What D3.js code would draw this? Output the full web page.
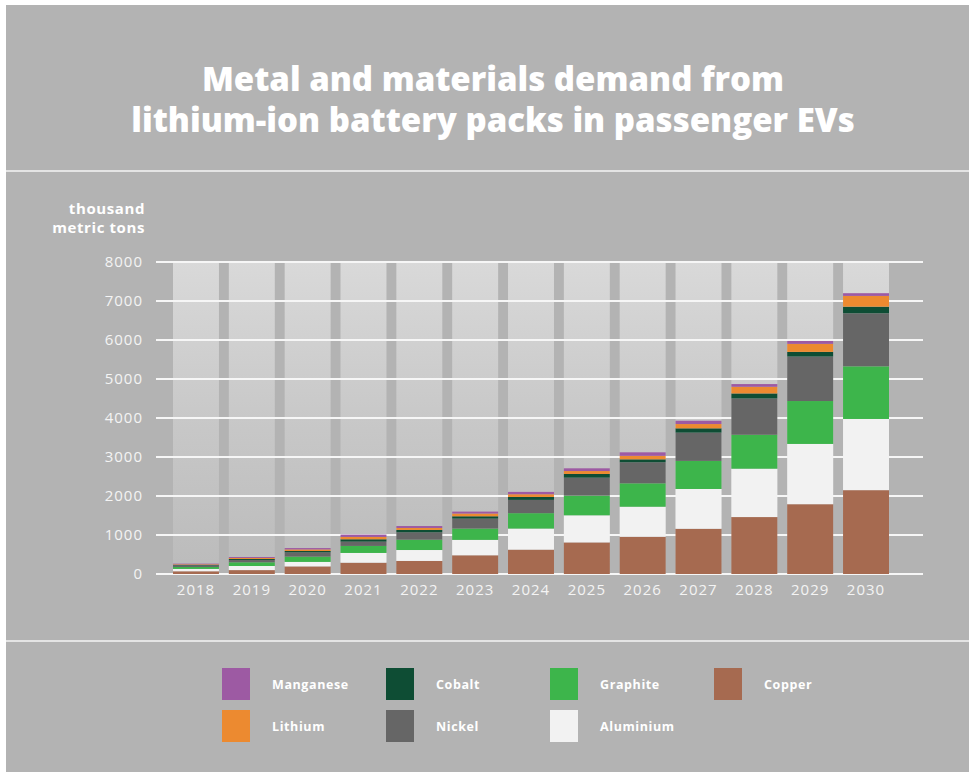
<!DOCTYPE html>
<html lang="en">
<head>
    <meta charset="UTF-8">
    <title>EV battery materials demand</title>
    <style>
        body{ margin:0; background:#ffffff; }
        svg text{ font-family:"Open Sans", sans-serif; }
        .title{ fill:#ffffff; font-size:33px; font-weight:800; text-anchor:middle; }
        .unit{ fill:#ffffff; font-size:15px; font-weight:700; text-anchor:end; letter-spacing:0.6px; }
        .axis text{ fill:#f4f4f4; font-size:15px; letter-spacing:1px; }
        .axis path,.axis line{ display:none; }
        .legendText{ fill:#ffffff; font-size:12.5px; font-weight:700; letter-spacing:0.6px; }
    </style>
    <script src="https://cdn.jsdelivr.net/npm/d3@7"></script>
</head>
<body>
<script>
    // data, thousand metric tons
    var years = ["2018","2019","2020","2021","2022","2023","2024","2025","2026","2027","2028","2029","2030"];
    var copper    = [70,100,195,290,335,480,625,810,955,1160,1460,1790,2150];
    var aluminium = [60,105,115,250,280,395,540,695,770,1020,1240,1545,1825];
    var graphite  = [50,95,135,180,265,290,395,505,600,720,870,1100,1350];
    var nickel    = [40,60,110,110,190,255,340,460,540,725,930,1140,1360];
    var cobalt    = [15,25,35,60,60,60,75,95,75,110,130,120,170];
    var lithium   = [15,25,40,60,50,70,70,75,90,110,170,205,275];
    var manganese = [15,25,35,60,50,50,60,70,90,85,70,75,70];
    var yTicks = [0,1000,2000,3000,4000,5000,6000,7000,8000];

    var keys = ["Copper","Aluminium","Graphite","Nickel","Cobalt","Lithium","Manganese"];
    var series = {Copper:copper, Aluminium:aluminium, Graphite:graphite, Nickel:nickel,
                  Cobalt:cobalt, Lithium:lithium, Manganese:manganese};
    var colors = {Manganese:"#9d5aa3", Lithium:"#ec8a30", Cobalt:"#0e4d34", Nickel:"#666666",
                  Graphite:"#3db54b", Aluminium:"#f2f2f2", Copper:"#a66a50"};

    var rows = years.map(function(y,i){
        var r = {year:y};
        keys.forEach(function(k){ r[k] = series[k][i]; });
        return r;
    });

    var width = 969, height = 772;
    var svg = d3.select("body").append("svg")
            .attr("width",width)
            .attr("height",height);

    // panel background
    svg.append("rect").attr("x",6).attr("y",5).attr("width",width-6).attr("height",height-5).attr("fill","#b3b3b3");
    svg.append("rect").attr("x",6).attr("y",170).attr("width",width-6).attr("height",2).attr("fill","#e4e4e4");
    svg.append("rect").attr("x",6).attr("y",640).attr("width",width-6).attr("height",2).attr("fill","#e4e4e4");

    // title
    svg.append("text").attr("class","title").attr("x",493).attr("y",91).text("Metal and materials demand from");
    svg.append("text").attr("class","title").attr("x",493).attr("y",132).text("lithium-ion battery packs in passenger EVs");

    svg.append("text").attr("class","unit").attr("x",145).attr("y",214).text("thousand");
    svg.append("text").attr("class","unit").attr("x",145).attr("y",233).text("metric tons");

    // scales
    var xScale = d3.scaleBand()
            .domain(years)
            .range([173,889])
            .paddingInner(0.177)
            .paddingOuter(0);
    var yScale = d3.scaleLinear()
            .domain([0,8000])
            .range([574,262]);

    // gradient for the background columns
    var defs = svg.append("defs");
    var grad = defs.append("linearGradient").attr("id","colGrad")
            .attr("x1",0).attr("y1",0).attr("x2",0).attr("y2",1);
    grad.append("stop").attr("offset","0%").attr("stop-color","#d9d9d9");
    grad.append("stop").attr("offset","50%").attr("stop-color","#c8c8c8");
    grad.append("stop").attr("offset","100%").attr("stop-color","#bbbbbb");

    svg.selectAll(".col")
            .data(years)
            .enter()
            .append("rect")
            .attr("class","col")
            .attr("x",function(d){ return xScale(d); })
            .attr("y",yScale(8000))
            .attr("width",xScale.bandwidth())
            .attr("height",yScale(0)-yScale(8000))
            .attr("fill","url(#colGrad)");

    // gridlines
    svg.selectAll(".grid")
            .data(yTicks)
            .enter()
            .append("line")
            .attr("x1",156)
            .attr("x2",923)
            .attr("y1",function(d){ return yScale(d); })
            .attr("y2",function(d){ return yScale(d); })
            .attr("stroke","#f6f6f6")
            .attr("stroke-width",2);

    // stacked bars
    var stack = d3.stack().keys(keys)(rows);
    svg.selectAll(".layer")
            .data(stack)
            .enter()
            .append("g")
            .attr("fill",function(d){ return colors[d.key]; })
            .selectAll("rect")
            .data(function(d){ return d; })
            .enter()
            .append("rect")
            .attr("x",function(d){ return xScale(d.data.year); })
            .attr("y",function(d){ return yScale(d[1]); })
            .attr("width",xScale.bandwidth())
            .attr("height",function(d){ return yScale(d[0]) - yScale(d[1]); });

    // axes
    svg.append("g")
            .attr("class","axis")
            .attr("transform","translate(156,0)")
            .call(d3.axisLeft(yScale).tickValues(yTicks).tickSize(0).tickPadding(13).tickFormat(d3.format("d")));
    svg.append("g")
            .attr("class","axis")
            .attr("transform","translate(0,574)")
            .call(d3.axisBottom(xScale).tickSize(0).tickPadding(10));

    // legend
    var legendItems = [
        {k:"Manganese",x:222,y:668},{k:"Lithium",x:222,y:710},
        {k:"Cobalt",x:386,y:668},{k:"Nickel",x:386,y:710},
        {k:"Graphite",x:550,y:668},{k:"Aluminium",x:550,y:710},
        {k:"Copper",x:714,y:668}
    ];
    var lg = svg.selectAll(".legend")
            .data(legendItems)
            .enter()
            .append("g")
            .attr("transform",function(d){ return "translate(" + d.x + "," + d.y + ")"; });
    lg.append("rect")
            .attr("width",28)
            .attr("height",32)
            .attr("fill",function(d){ return colors[d.k]; });
    lg.append("text")
            .attr("class","legendText")
            .attr("x",50)
            .attr("y",21)
            .text(function(d){ return d.k; });
</script>
</body>
</html>
